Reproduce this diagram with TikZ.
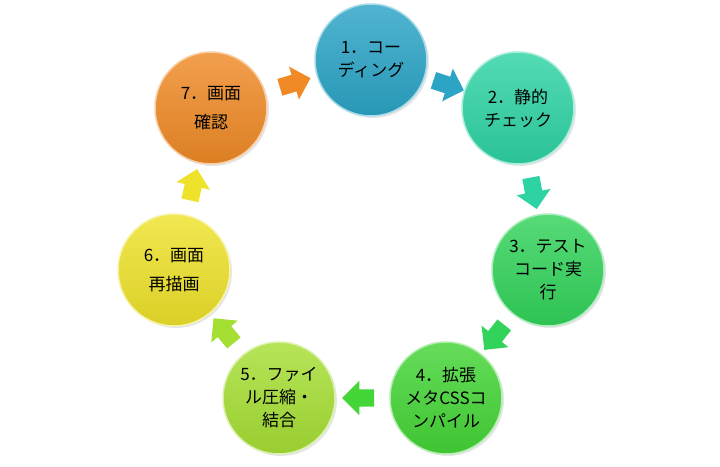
\documentclass[tikz,border=0pt]{standalone}
\usepackage{fontspec}
\newfontfamily\jpfont{Noto Sans CJK JP}
\usepackage{tikz}
\usetikzlibrary{shapes.arrows,shadows}

\definecolor{cone}{HTML}{2BA4C6}
\definecolor{ctwo}{HTML}{2ED3A4}
\definecolor{cthree}{HTML}{32D35A}
\definecolor{cfour}{HTML}{44D536}
\definecolor{cfive}{HTML}{A6DF34}
\definecolor{csix}{HTML}{EEE22A}
\definecolor{cseven}{HTML}{EF8A26}

\tikzset{
  ball/.style={top color=#1!82!white, bottom color=#1!92!black, draw=#1!40!white},
  blk/.style={fill=#1}
}

\begin{document}
\begin{tikzpicture}[x=1pt,y=1pt]
\useasboundingbox (0,0) rectangle (720,466);
		\begin{scope}[every node/.style={circle,line width=1.5pt,minimum size=112pt,inner sep=0pt,align=center,
              drop shadow={opacity=0.2,shadow xshift=2pt,shadow yshift=-2pt},
              font=\jpfont\fontsize{17}{23}\selectfont}]
    \node[ball=cone] (1) at (371,406) {1．コー\\ディング};
    \node[ball=ctwo] (2) at (518,358) {2．静的\\チェック};
    \node[ball=cthree] (3) at (548,196) {3．テスト\\コード実\\行};
    \node[ball=cfour] (4) at (446,68) {4．拡張\\メタCSSコ\\ンパイル};
    \node[ball=cfive] (5) at (279,68) {5．ファイ\\ル圧縮・\\結合};
    \node[ball=csix,font=\jpfont\fontsize{17}{29}\selectfont] (6) at (174,196) {6．画面\\再描画};
    \node[ball=cseven,font=\jpfont\fontsize{17}{29}\selectfont] (7) at (211,358) {7．画面\\確認};
	\end{scope}

	\begin{scope}[every node/.style={single arrow,sloped,allow upside down,inner sep=0pt,inner ysep=8.5pt,
              minimum height=32pt,single arrow head extend=8.5pt}]
    \path (7) -- node[blk=cseven] {} (1);
    \path (1) -- node[blk=cone] {} (2);
    \path (2) -- node[blk=ctwo] {} (3);
		\path (3) -- node[blk=cthree] {} (4);
		\path (4) -- node[blk=cfour] {} (5);
		\path (5) -- node[blk=cfive] {} (6);
		\path (6) -- node[blk=csix] {} (7);
\end{scope}
\end{tikzpicture}
\end{document}
